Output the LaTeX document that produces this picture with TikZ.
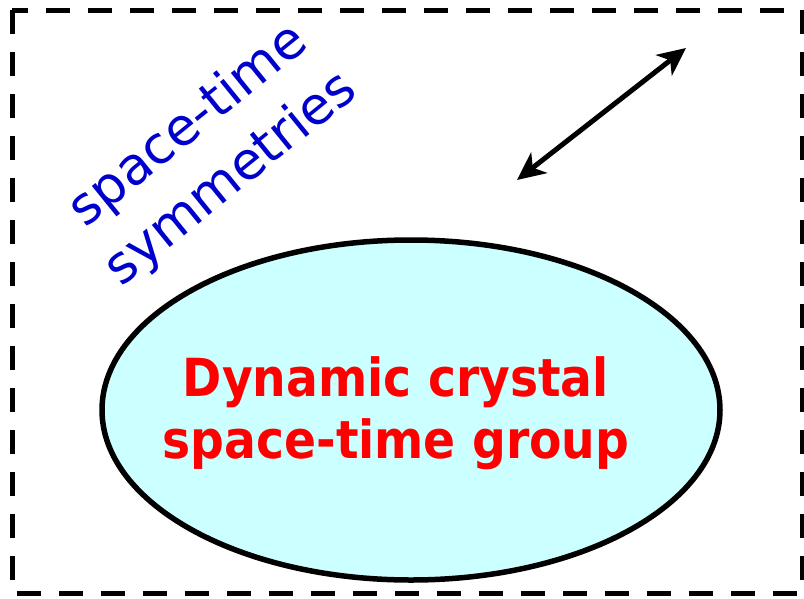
\documentclass[tikz,border=0pt]{standalone}
\usepackage{fontspec}
\setmainfont{DejaVu Sans}
\newfontfamily\redfont{DejaVu Sans Condensed}
\usetikzlibrary{arrows.meta,shapes.geometric}
\definecolor{cyanfill}{HTML}{CCFFFF}
\definecolor{symblue}{HTML}{0000CC}
\tikzset{
  frame/.style={draw=black, line width=5pt, dash pattern=on 24pt off 18pt},
  crystal/.style={ellipse, draw=black, line width=5.5pt, fill=cyanfill, minimum width=618pt, minimum height=340pt, inner sep=0pt},
  redlabel/.style={text=red, font=\redfont\bfseries\fontsize{52.5}{62}\selectfont, align=center},
  bluelabel/.style={text=symblue, font=\fontsize{52}{68}\selectfont, align=center},
  dblarrow/.style={line width=5pt, {Stealth[length=28pt,width=26pt,inset=8pt]}-{Stealth[length=28pt,width=26pt,inset=8pt]}}
}
\begin{document}
\begin{tikzpicture}[x=1pt,y=-1pt]
\useasboundingbox (0,0) rectangle (804,598);
\draw[frame] (12,10) rectangle (802,593);
\node[crystal] (ell) at (411,410) {};
\node[redlabel] (grp) at (396,413) {Dynamic crystal\\space-time group};
\node[bluelabel, rotate=39] (sym) at (210,153) {space-time\\symmetries};
\coordinate (a1) at (517,180);
\coordinate (a2) at (686,48);
\draw[dblarrow] (a1) -- (a2);
\end{tikzpicture}
\end{document}
